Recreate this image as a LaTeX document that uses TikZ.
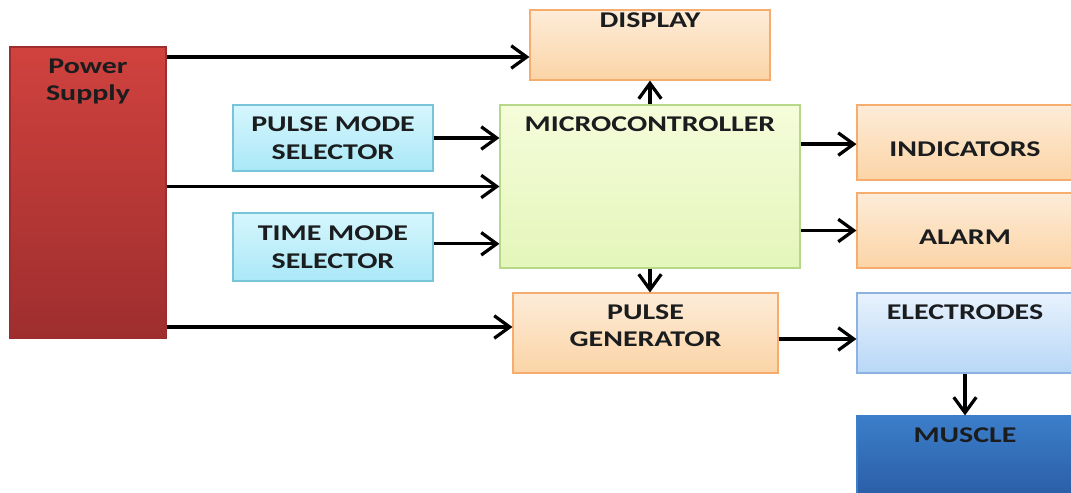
\documentclass[tikz,border=0pt]{standalone}
\usepackage{fontspec}
\setmainfont{Carlito}[FakeStretch=1.33]
\usetikzlibrary{arrows.meta,shapes}
\definecolor{redtop}{RGB}{208,66,62}
\definecolor{redbot}{RGB}{158,46,46}
\definecolor{orgtop}{RGB}{253,236,216}
\definecolor{orgbot}{RGB}{251,212,166}
\definecolor{orgline}{RGB}{246,172,108}
\definecolor{cyntop}{RGB}{214,246,253}
\definecolor{cynbot}{RGB}{170,232,247}
\definecolor{cynline}{RGB}{120,196,216}
\definecolor{grntop}{RGB}{245,252,218}
\definecolor{grnbot}{RGB}{228,246,186}
\definecolor{grnline}{RGB}{182,216,136}
\definecolor{blutop}{RGB}{232,242,253}
\definecolor{blubot}{RGB}{184,215,247}
\definecolor{bluline}{RGB}{140,178,226}
\definecolor{dbltop}{RGB}{60,126,202}
\definecolor{dblbot}{RGB}{42,94,166}
\definecolor{ink}{RGB}{26,28,30}
\tikzstyle{blk} = [rectangle, draw, line width=0.8pt, text centered, align=center,
    inner sep=0pt, text=ink]
\tikzstyle{pwr} = [blk, draw=redbot, top color=redtop, bottom color=redbot]
\tikzstyle{org} = [blk, draw=orgline, top color=orgtop, bottom color=orgbot]
\tikzstyle{cyn} = [blk, draw=cynline, top color=cyntop, bottom color=cynbot]
\tikzstyle{grn} = [blk, draw=grnline, top color=grntop, bottom color=grnbot]
\tikzstyle{blu} = [blk, draw=bluline, top color=blutop, bottom color=blubot]
\tikzstyle{dbl} = [blk, draw=dbltop, top color=dbltop, bottom color=dblbot]
\tikzstyle{arr} = [line width=2.3pt, -{Straight Barb[length=11pt,width=16pt]}]
\tikzset{toptext/.style={label={[anchor=north,inner sep=0pt,yshift=-0.3cm,align=center,text=ink]north:#1}},
  lowtext/.style={label={[anchor=center,inner sep=0pt,yshift=-0.17cm,text=ink]center:#1}}}

\begin{document}
\begin{tikzpicture}[font=\fontsize{16}{19.5}\selectfont\bfseries]
  \useasboundingbox (0,0) rectangle (26.775,-12.325);
  \node[pwr,minimum width=3.9cm,minimum height=7.275cm,toptext={Power\\Supply}] (ps) at (2.2,-4.8125) {};
  \node[org,minimum width=6cm,minimum height=1.75cm,
        label={[anchor=north,inner sep=0pt,yshift=-0.08cm,text=ink]north:DISPLAY}] (disp) at (16.25,-1.125) {};
  \node[cyn,minimum width=5cm,minimum height=1.65cm] (pms) at (8.325,-3.45) {PULSE MODE\\SELECTOR};
  \node[cyn,minimum width=5cm,minimum height=1.7cm] (tms) at (8.325,-6.175) {TIME MODE\\SELECTOR};
  \node[grn,minimum width=7.5cm,minimum height=4.075cm,toptext=MICROCONTROLLER] (mc) at (16.25,-4.6625) {};
  \node[org,minimum width=5.4cm,minimum height=1.875cm,lowtext=INDICATORS] (ind) at (24.125,-3.5625) {};
  \node[org,minimum width=5.4cm,minimum height=1.875cm,lowtext=ALARM] (alarm) at (24.125,-5.7625) {};
  \node[org,minimum width=6.625cm,minimum height=2cm,toptext={PULSE\\GENERATOR}] (pg) at (16.1375,-8.325) {};
  \node[blu,minimum width=5.4cm,minimum height=2cm,toptext=ELECTRODES] (elec) at (24.125,-8.325) {};
  \node[dbl,minimum width=5.4cm,minimum height=2cm,toptext=MUSCLE] (mus) at (24.125,-11.4) {};

  \draw[arr] ([yshift=-0.3cm]disp.west -| ps.east) -- ([yshift=-0.3cm]disp.west);
  \draw[arr] (ps.east |- mc.west) -- (mc.west);
  \draw[arr] ([yshift=0.15cm]pg.west -| ps.east) -- ([yshift=0.15cm]pg.west);
  \draw[arr] (pms.east) -- (pms.east -| mc.west);
  \draw[arr] ([yshift=0.08cm]tms.east) -- ([yshift=0.08cm]tms.east -| mc.west);
  \draw[arr] (mc.north) -- (disp.south);
  \draw[arr] (mc.south) -- (mc.south |- pg.north);
  \draw[arr] ([yshift=-0.04cm]ind.west -| mc.east) -- ([yshift=-0.04cm]ind.west);
  \draw[arr] (alarm.west -| mc.east) -- (alarm.west);
  \draw[arr] ([yshift=-0.15cm]pg.east) -- ([yshift=-0.15cm]elec.west);
  \draw[arr] (elec.south) -- (mus.north);
\end{tikzpicture}
\end{document}
